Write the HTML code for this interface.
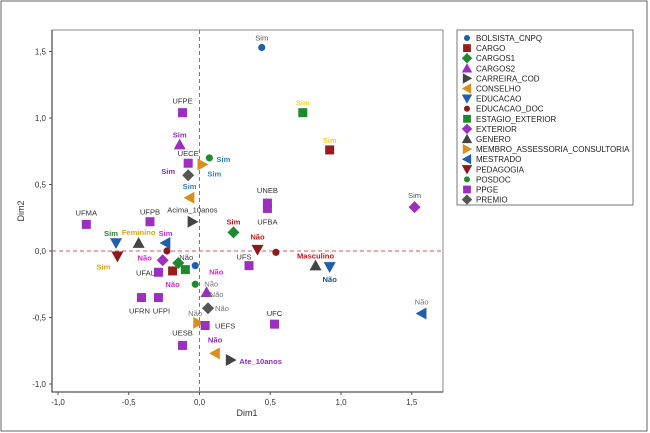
<!DOCTYPE html>
<html><head><meta charset="utf-8"><style>
body{margin:0;background:#fff;}
svg{display:block;font-family:"Liberation Sans",sans-serif;}
</style></head><body>
<svg id="chart" width="650" height="433" viewBox="0 0 650 433">
<rect x="1" y="1" width="646" height="430" fill="#fff" stroke="#666"/>
<g id="plot"></g>
<g id="legend"></g>
</svg>
<script>
const categories=["BOLSISTA_CNPQ","CARGO","CARGOS1","CARGOS2","CARREIRA_COD","CONSELHO","EDUCACAO","EDUCACAO_DOC","ESTAGIO_EXTERIOR","EXTERIOR","GENERO","MEMBRO_ASSESSORIA_CONSULTORIA","MESTRADO","PEDAGOGIA","POSDOC","PPGE","PREMIO"];
const pointCat=[0,0,1,1,2,2,3,3,4,4,5,5,6,6,7,7,8,8,9,9,10,10,11,11,12,12,13,13,14,14,15,15,15,15,15,15,15,15,15,15,15,15,15,16,16];
const xValues=[0.44,-0.03,0.92,-0.19,0.24,-0.15,-0.14,0.05,-0.05,0.22,-0.07,0.11,-0.59,0.92,-0.23,0.54,0.73,-0.10,1.52,-0.26,-0.43,0.82,0.02,-0.01,-0.24,1.57,-0.58,0.41,0.07,-0.03,-0.12,-0.08,0.48,0.48,-0.80,-0.35,0.35,-0.29,-0.41,-0.29,0.53,0.04,-0.12,-0.08,0.06];
const yValues=[1.53,-0.11,0.76,-0.15,0.14,-0.09,0.80,-0.31,0.22,-0.82,0.40,-0.77,0.06,-0.12,0.00,-0.01,1.04,-0.14,0.33,-0.07,0.06,-0.11,0.65,-0.54,0.06,-0.47,-0.04,0.01,0.70,-0.25,1.04,0.66,0.36,0.32,0.20,0.22,-0.11,-0.16,-0.35,-0.35,-0.55,-0.56,-0.71,0.57,-0.43];
const pointLabels=["Sim","Não","Sim","Não","Sim","Não","Sim","Não","Acima_10anos","Ate_10anos","Sim","Não","Sim","Não","","","Sim","","Sim","Não","Feminino","Masculino","Sim","Não","Sim","Não","Sim","Não","Sim","Não","UFPE","UECE","UNEB","UFBA","UFMA","UFPB","UFS","UFAL","UFRN","UFPI","UFC","UEFS","UESB","Sim","Não"];
const xTicks=[-1.0,-0.5,0.0,0.5,1.0,1.5];
const xTickLabels=["-1,0","-0,5","0,0","0,5","1,0","1,5"];
const yTicks=[1.5,1.0,0.5,0.0,-0.5,-1.0];
const yTickLabels=["1,5","1,0","0,5","0,0","-0,5","-1,0"];

const catColor=["#1f5fb0","#9b1c1c","#1e8a2e","#9b2fc0","#444","#d9901a","#1f5fb0","#8b1a1a","#1e8a2e","#9b2fc0","#444","#d9901a","#1f5fb0","#8b1a1a","#1e8a2e","#9b2fc0","#555"];
const catShape=["circle","square","diamond","up","right","left","down","circle","square","diamond","up","right","left","down","circle","square","diamond"];
const labStyle=[["#555",0,-10,0],["#d02ad0",21,6,1],["#f2d230",0,-10,1],["#d02ad0",0,13,1],["#c0171f",0,-11,1],["#444",8,-6,0],["#8a2cc0",0,-10,1],["#777",10,2,0],["#333",0,-12,0],["#8a2cc0",30,1,1],["#2f7fd0",0,-12,1],["#8a2cc0",0,-14,1],["#2e7d32",-5,-10,1],["#1a4f9a",0,12,1],["#2e7d32",-10,-1,1],["#1a4f9a",0,-9,1],["#f2d230",0,-10,1],["",0,0,0],["#555",0,-12,0],["#d02ad0",-18,-3,1],["#e0a020",0,-11,1],["#c0171f",0,-10,1],["#2f7fd0",12,9,1],["#777",-3,-10,0],["#d02ad0",0,-10,1],["#777",0,-12,0],["#e0a020",-14,10,1],["#c0171f",0,-13,1],["#2f7fd0",14,1,1],["#777",16,-1,0],["#333",0,-12,0],["#333",0,-10,0],["#333",0,-13,0],["#333",0,13,0],["#333",0,-12,0],["#333",0,-10,0],["#333",-5,-9,0],["#333",-13,0,0],["#333",-2,13,0],["#333",3,13,0],["#333",0,-11,0],["#333",20,0,0],["#333",0,-13,0],["#8a2cc0",-20,-4,1],["#777",14,0,0]];

const L=52,R=443,T=30,B=392;
const X=v=>199.5+v*141.5, Y=v=>251-v*133;
const NS="http://www.w3.org/2000/svg";
const plot=document.getElementById('plot');
function mk(tag,attrs,parent){const e=document.createElementNS(NS,tag);for(const k in attrs)e.setAttribute(k,attrs[k]);parent.appendChild(e);return e;}
function shape(kind,cx,cy,s,color,parent){
  let e;
  if(kind==="circle")e=mk('circle',{cx:cx,cy:cy,r:s*0.55,fill:color},parent);
  else if(kind==="square")e=mk('rect',{x:cx-s*0.6,y:cy-s*0.6,width:s*1.2,height:s*1.2,fill:color},parent);
  else{let p;
    if(kind==="diamond")p=[[0,-1],[1,0],[0,1],[-1,0]];
    if(kind==="up")p=[[0,-1],[1,0.8],[-1,0.8]];
    if(kind==="down")p=[[0,1],[1,-0.8],[-1,-0.8]];
    if(kind==="right")p=[[1,0],[-0.8,-1],[-0.8,1]];
    if(kind==="left")p=[[-1,0],[0.8,-1],[0.8,1]];
    e=mk('polygon',{points:p.map(q=>(cx+q[0]*s*0.8)+','+(cy+q[1]*s*0.8)).join(' '),fill:color},parent);}
  return e;
}
const fr=mk('rect',{x:L,y:T,width:R-L,height:B-T,fill:'none',stroke:'#888','stroke-width':1},plot);


const ax=mk('path',{d:`M${L},${T}V${B}H${R}`,fill:'none',stroke:'#555','stroke-width':1.3},plot);


const h=mk('line',{x1:L,x2:R,y1:Y(0),y2:Y(0),stroke:'#e05050','stroke-dasharray':'4,3'},plot);


const v=mk('line',{x1:X(0),x2:X(0),y1:T,y2:B,stroke:'#e05050','stroke-dasharray':'4,3'},plot);


xTicks.forEach((t,i)=>{
  mk('line',{x1:X(t),x2:X(t),y1:B,y2:B+3,stroke:'#555'},plot);
  const tx=mk('text',{x:X(t),y:B+13,'font-size':8,'text-anchor':'middle',fill:'#333'},plot);
  tx.textContent=xTickLabels[i];
  
  
});
yTicks.forEach((t,i)=>{
  mk('line',{x1:L-3,x2:L,y1:Y(t),y2:Y(t),stroke:'#555'},plot);
  const tx=mk('text',{x:L-6,y:Y(t)+3,'font-size':8,'text-anchor':'end',fill:'#333'},plot);
  tx.textContent=yTickLabels[i];
  
  
});
const xt=mk('text',{x:247,y:416,'font-size':9,'text-anchor':'middle',fill:'#333'},plot);
xt.textContent='Dim1';


const yt=mk('text',{x:24,y:211,'font-size':9,'text-anchor':'middle',fill:'#333',transform:'rotate(-90 24 211)'},plot);
yt.textContent='Dim2';


xValues.forEach((xv,i)=>{
  const c=pointCat[i];
  const px=X(xv),py=Y(yValues[i]);
  const m=shape(catShape[c],px,py,catShape[c]==="circle"?6.5:7.5,catColor[c],plot);
  
  
  const ls=labStyle[i];
  if(pointLabels[i]&&ls[0]){
    const t=mk('text',{x:px+ls[1],y:py+ls[2]+3,'font-size':7.6,'text-anchor':'middle',fill:ls[0],'font-weight':ls[3]?'bold':'normal'},plot);
    t.textContent=pointLabels[i];
    
    
  }
});
const lg=document.getElementById('legend');
const lb=mk('rect',{x:457,y:30,width:176,height:175,fill:'#fff',stroke:'#777'},lg);


categories.forEach((c,i)=>{
  const y=38+i*10.1;
  const g=mk('g',{},lg);
  
  
  shape(catShape[i],467,y,catShape[i]==="circle"?5.5:6.5,catColor[i],g);
  const t=mk('text',{x:476,y:y+3,'font-size':8,fill:'#222'},g);
  t.textContent=c;
});
</script>
</body></html>
